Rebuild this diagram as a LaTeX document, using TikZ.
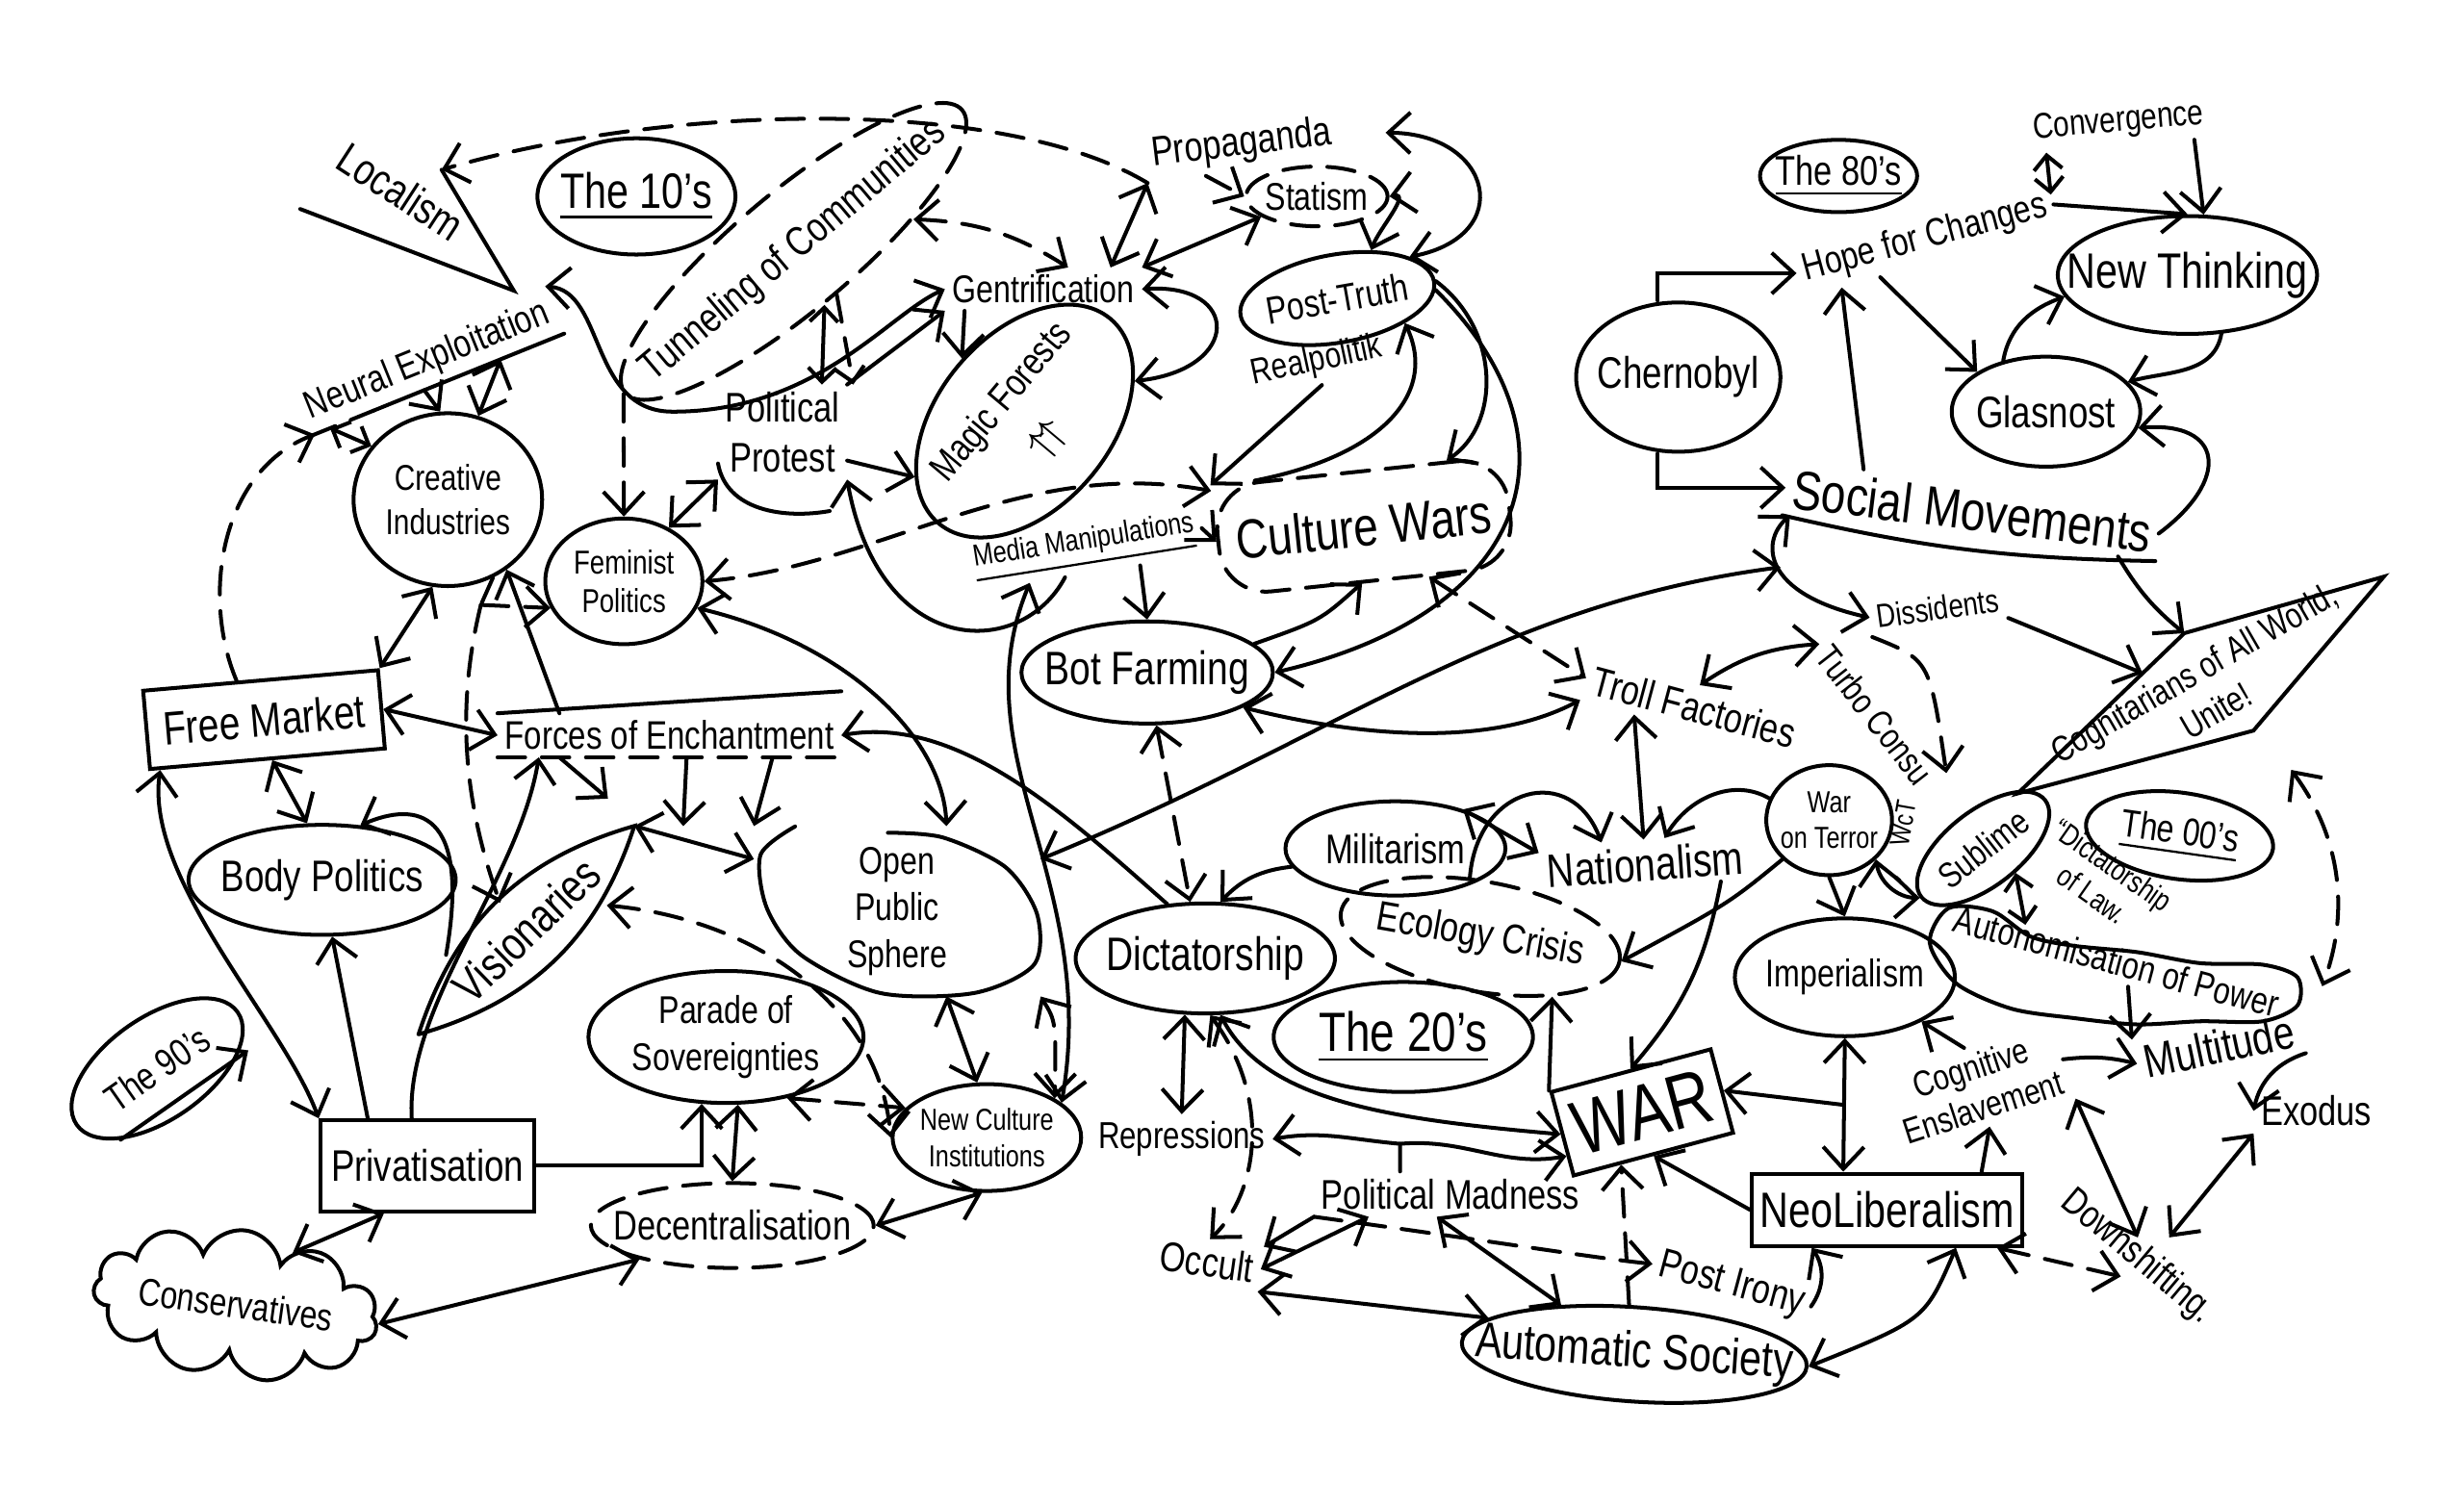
\documentclass[tikz,border=0pt]{standalone}
\usepackage{fontspec}
\setmainfont[FakeStretch=0.8]{Liberation Sans}
\usetikzlibrary{shapes.geometric,shapes.symbols,arrows.meta,calc}
\newcommand\hwfont[2]{\fontsize{#1}{#2}\selectfont}
\tikzset{
  oval/.style={draw,ellipse,inner xsep=-3mm,inner ysep=-1mm},
  dashoval/.style={oval,dashed},
  box/.style={draw,rectangle,inner sep=1.5pt},
  txt/.style={inner sep=1pt},
  cloudy/.style={draw,cloud,cloud puffs=11,aspect=3,inner sep=0pt},
  dashed/.style={dash pattern=on 5pt off 3pt},
  smalltip/.style={>={Straight Barb[length=0.9mm,width=1.8mm]}}
}
\begin{document}
\begin{tikzpicture}[x=0.1mm,y=-0.1mm,line width=0.7pt,line cap=round,>={Straight Barb[length=1.4mm,width=2.6mm]},every node/.style={align=center}]
\useasboundingbox (0,0) rectangle (1568,959);

% nodes
\node[txt,rotate=-33,font=\hwfont{8}{9}] (loc) at (255,122) {Localism};
\coordinate (locA) at (191,133);
\coordinate (locB) at (327,185);
\coordinate (loctip) at (281,108);
\draw (locA) -- (locB) -- (loctip);
\node[oval,minimum width=12.6mm,minimum height=7.4mm,font=\hwfont{9}{10}] (t10) at (405,125) {\underline{The 10's}};
\node[dashoval,rotate=40,minimum width=28mm,minimum height=7.5mm,font=\hwfont{7.5}{8.5}] (tun) at (505,160) {Tunneling of Communities};
\node[txt,rotate=7,font=\hwfont{7.5}{8.5}] (prop) at (790,92) {Propaganda};
\node[dashoval,minimum width=9mm,minimum height=3.8mm,font=\hwfont{7}{8}] (stat) at (838,125) {Statism};
\node[txt,font=\hwfont{7}{8}] (gent) at (664,184) {Gentrification};
\node[oval,rotate=10,minimum width=12.5mm,minimum height=5.6mm,font=\hwfont{7}{8}] (ptruth) at (851,190) {Post-Truth};
\node[txt,rotate=12,font=\hwfont{6.5}{7.5}] (real) at (838,230) {Realpolitik};
\node[txt,rotate=22,font=\hwfont{7}{8}] (neural) at (272,230) {Neural Exploitation};
\draw[dashed] (neural.south west) -- ($(neural.south west)!0.25!(neural.south east)$);
\draw ($(neural.south west)!0.25!(neural.south east)$) -- (neural.south east);
\node[oval,minimum width=12mm,minimum height=11mm,font=\hwfont{6.5}{8}] (crea) at (285,318) {Creative\\Industries};
\node[txt,font=\hwfont{7.5}{9}] (pprot) at (498,275) {Political\\Protest};
\draw ([yshift=-2mm]pprot.west) to[out=-80,in=190] ([xshift=3mm,yshift=-2mm]pprot.south);
\node[oval,rotate=50,minimum width=17mm,minimum height=11mm,font=\hwfont{7}{10.5}] (magic) at (652,268) {Magic Forests\\$\uparrow\!\uparrow$};
\node[oval,minimum width=10mm,minimum height=8mm,font=\hwfont{6}{7}] (fem) at (397,370) {Feminist\\Politics};
\node[txt,rotate=9,font=\hwfont{5.5}{6.5}] (media) at (690,348) {\underline{Media Manipulations}};
\node[draw,dashed,rounded corners=3mm,rotate=6,minimum width=18mm,minimum height=7mm,font=\hwfont{10}{11}] (cult) at (868,335) {Culture Wars};
\node[oval,minimum width=16mm,minimum height=6.5mm,font=\hwfont{8.5}{9.5}] (bot) at (730,428) {Bot Farming};
\node[box,rotate=5,minimum width=15mm,minimum height=5mm,font=\hwfont{8.5}{9.5}] (fm) at (168,458) {Free Market};
\node[txt,font=\hwfont{7.2}{8}] (forces) at (426,468) {Forces of Enchantment};
\draw (forces.north west) -- ([yshift=1.4mm]forces.north east);
\draw[dashed] (forces.south west) -- (forces.south east);
\node[oval,minimum width=17mm,minimum height=7mm,font=\hwfont{8}{9}] (body) at (205,560) {Body Politics};
\node[txt,rotate=44,inner xsep=3.6mm,inner ysep=1.2mm,font=\hwfont{8.5}{9.5}] (vis) at (335,592) {Visionaries};
\draw (vis.west) to[bend left=28] (vis.east) to[bend left=28] (vis.west);
\node[txt,minimum width=18mm,minimum height=10.6mm,font=\hwfont{7}{8.5}] (ops) at (571,580) {Open\\Public\\Sphere};
\draw plot[smooth] coordinates {(506,526) (484,544) (488,578) (510,608) (560,632) (620,632) (658,614) (660,582) (640,552) (600,533) (565,530)};
\node[oval,minimum width=17.5mm,minimum height=8.4mm,font=\hwfont{7}{8.5}] (parade) at (462,660) {Parade of\\Sovereignties};
\node[oval,minimum width=16.5mm,minimum height=7mm,font=\hwfont{8.5}{9.5}] (dict) at (767,610) {Dictatorship};
\node[oval,minimum width=12mm,minimum height=6.8mm,font=\hwfont{5.5}{6.5}] (nci) at (628,724) {New Culture\\Institutions};
\node[dashoval,minimum width=18mm,minimum height=5.4mm,font=\hwfont{7.5}{8.5}] (decent) at (466,780) {Decentralisation};
\node[box,minimum width=13.6mm,minimum height=5.8mm,font=\hwfont{8}{9}] (priv) at (272,742) {Privatisation};
\node[oval,rotate=35,minimum width=12.5mm,minimum height=6.5mm,font=\hwfont{7}{8}] (n90) at (100,680) {The 90's};
\draw[->] (n90.south west) -- ($(n90.south west)!1.1!(n90.south east)$);
\node[cloudy,rotate=-8,minimum width=17.5mm,minimum height=7mm,font=\hwfont{7}{8}] (cons) at (150,830) {Conservatives};
\node[txt,font=\hwfont{6.8}{7.8}] (repr) at (752,725) {Repressions};
\node[txt,rotate=-8,font=\hwfont{7.5}{8.5}] (occ) at (768,803) {Occult};
\node[txt,font=\hwfont{7.5}{8.5}] (pmad) at (923,760) {Political Madness};
\node[oval,rotate=-4,minimum width=22mm,minimum height=6mm,font=\hwfont{9}{10}] (auto) at (1040,862) {Automatic Society};
\node[txt,rotate=-15,font=\hwfont{7.5}{8.5}] (pirony) at (1102,818) {Post Irony};
\node[box,rotate=15,minimum width=10.5mm,minimum height=5.5mm,font=\hwfont{14}{15}] (war) at (1045,708) {WAR};
\node[box,minimum width=16.2mm,minimum height=4.6mm,font=\hwfont{9}{10}] (neo) at (1201,770) {NeoLiberalism};
\node[txt,rotate=18,font=\hwfont{6.5}{7.5}] (cogn) at (1258,692) {Cognitive\\Enslavement};
\node[txt,rotate=12,font=\hwfont{8.5}{9.5}] (mult) at (1412,666) {Multitude};
\node[txt,font=\hwfont{7.5}{8.5}] (exo) at (1474,707) {Exodus};
\node[txt,rotate=-40,font=\hwfont{7}{8}] (down) at (1360,800) {Downshifting.};
\node[oval,minimum width=14mm,minimum height=7.5mm,font=\hwfont{7}{8}] (imp) at (1174,622) {Imperialism};
\node[txt,rotate=-15,font=\hwfont{6.8}{7.8}] (auton) at (1347,612) {Autonomisation of Power};
\draw plot[smooth cycle] coordinates {(1240,578) (1228,600) (1245,626) (1280,642) (1320,648) (1360,652) (1400,650) (1440,650) (1462,640) (1462,622) (1440,614) (1400,613) (1360,606) (1320,602) (1292,596) (1268,580)};
\node[txt,rotate=-35,font=\hwfont{5.5}{6.5}] (dlaw) at (1338,560) {\textquotedblleft Dictatorship\\of Law.};
\node[oval,rotate=38,minimum width=10mm,minimum height=4.8mm,font=\hwfont{6.5}{7.5}] (subl) at (1262,540) {Sublime};
\node[oval,rotate=-8,minimum width=12mm,minimum height=5.5mm,font=\hwfont{7}{8}] (n00) at (1387,532) {\underline{The 00's}};
\node[txt,rotate=30,font=\hwfont{6.5}{8}] (cogt) at (1403,440) {Cognitarians of All World,\\Unite!};
\coordinate (cgA) at (1284,505);
\coordinate (cgB) at (1390,403);
\coordinate (cgC) at (1517,367);
\coordinate (cgD) at (1434,465);
\coordinate (cgE) at (1458,490);
\draw (cgA) -- (cgB) -- (cgC) -- (cgD) -- cycle;
\node[oval,minimum width=8mm,minimum height=7mm,font=\hwfont{5.5}{6.5}] (wot) at (1164,522) {War\\on Terror};
\node[txt,rotate=-52,font=\hwfont{6.5}{7.5}] (turbo) at (1193,455) {Turbo Consu};
\node[txt,rotate=80,font=\hwfont{5}{6}] (wct) at (1211,524) {WcT};
\node[txt,rotate=8,font=\hwfont{6}{7}] (diss) at (1233,387) {Dissidents};
\node[txt,rotate=-7,font=\hwfont{10}{11}] (socm) at (1255,325) {Social Movements};
\draw (socm.south west) to[bend right=6] (socm.south east);
\node[oval,minimum width=13mm,minimum height=9.5mm,font=\hwfont{8}{9}] (cher) at (1068,240) {Chernobyl};
\node[txt,rotate=15,font=\hwfont{7}{8}] (hope) at (1225,152) {Hope for Changes};
\node[oval,minimum width=10mm,minimum height=4.6mm,font=\hwfont{7.5}{8.5}] (n80) at (1170,112) {\underline{The 80's}};
\node[txt,rotate=5,font=\hwfont{6.5}{7.5}] (conv) at (1348,78) {Convergence};
\node[oval,minimum width=16.5mm,minimum height=7.5mm,font=\hwfont{9}{10}] (newt) at (1392,175) {New Thinking};
\node[oval,minimum width=12mm,minimum height=7mm,font=\hwfont{8}{9}] (glas) at (1302,262) {Glasnost};
\node[txt,rotate=-15,font=\hwfont{7.5}{8.5}] (troll) at (1078,450) {Troll Factories};
\node[oval,minimum width=14mm,minimum height=6mm,font=\hwfont{7.5}{8.5}] (milit) at (888,540) {Militarism};
\node[txt,rotate=4,font=\hwfont{8.5}{9.5}] (nat) at (1047,550) {Nationalism};
\node[dashoval,rotate=-10,minimum width=18mm,minimum height=7mm,font=\hwfont{7.5}{8.5}] (eco) at (942,596) {Ecology Crisis};
\node[oval,minimum width=16.5mm,minimum height=7mm,font=\hwfont{10}{11}] (n20) at (893,660) {\underline{The 20's}};

% connectors, top left
\draw[->,dashed] (prop.south west) .. controls (640,62) and (430,65) .. (loctip);
\coordinate (dip) at (428,262);
\draw[<->] (neural.north east) .. controls (385,185) and (375,262) .. (dip) .. controls (520,262) and (565,200) .. (gent.west);
\draw[<->,smalltip] ($(neural.south west)!0.08!(neural.south east)$) -- (crea.145);
\draw[->] ($(neural.south west)!0.45!(neural.south east)$) -- (crea.95);
\draw[<->] ($(neural.south west)!0.75!(neural.south east)$) -- (crea.70);
\draw[->,dashed] ($(fm.north west)!0.4!(fm.north east)$) .. controls (128,380) and (140,300) .. ($(neural.south west)!0.02!(neural.south east)$);
\coordinate (cfork) at (306,385);
\draw[dashed] (crea.-60) -- (cfork);
\draw[->,dashed] (cfork) -- (fem.200);
\draw[->,dashed] (cfork) .. controls (290,450) and (295,510) .. (vis.north);
\draw[<->] (fm.north east) -- (crea.-100);
\draw[<->] (fm.east) -- (forces.west);
\draw[<->] ($(fm.south west)!0.52!(fm.south east)$) -- (body.105);
\draw[<->] ($(fm.south west)!0.05!(fm.south east)$) .. controls (92,560) and (180,650) .. (priv.north west);
\draw[->] ($(forces.north west)!0.18!(forces.north east)$) -- (crea.-50);
\draw[->] ($(forces.south west)!0.18!(forces.south east)$) -- (vis.north east);
\draw[->] ($(forces.south west)!0.55!(forces.south east)$) -- ([xshift=-4.5mm]ops.north west);
\draw[->] ($(forces.south west)!0.8!(forces.south east)$) -- (ops.north west);
\draw[->] (dict.125) .. controls (680,520) and (610,455) .. (forces.east);
\draw[->] ([xshift=-3.8mm]priv.north) -- (body.-80);
\draw[->] ([xshift=-1mm]priv.north) .. controls (258,640) and (330,560) .. ($(forces.south west)!0.12!(forces.south east)$);
\draw[->] (priv.east) -| (parade.-110);
\draw[<->] ($(priv.south west)!0.3!(priv.south east)$) -- (cons.50);
\draw[<->] (cons.east) -- (decent.200);
\draw[->] ($(vis.north)!0.5!(vis.north west)$) .. controls (300,515) and (265,510) .. (body.55);
\draw[<->] (vis.east) -- (ops.160);
\draw[<->,dashed] ($(vis.south)!0.5!(vis.south east)$) .. controls (480,585) and (560,640) .. (nci.west);

% middle
\draw[->,dashed] (tun.west) -- (fem.north);
\draw[<->] (pprot.south west) -- (fem.50);
\draw[<->,dashed] ($(cult.north west)!0.05!(cult.south west)$) .. controls (650,290) and (560,360) .. (fem.east);
\draw[<->] (fem.-20) .. controls (540,410) and (600,470) .. (ops.60);
\draw[->] ($(pprot.east)!0.6!(pprot.south east)$) -- (magic.157);
\draw[->] (pprot.north east) -- (gent.south west);
\draw[->] ($(gent.south west)!0.1!(gent.south east)$) -- (magic.85);
\draw[<->] (gent.east) .. controls (790,180) and (790,235) .. (magic.-30);
\draw[<->,dashed] (tun.-25) to[bend left=15] ($(gent.north)!0.25!(gent.north east)$);
\draw[<->,smalltip] (tun.-100) -- ([xshift=2.5mm]pprot.north);
\draw[->,dashed,smalltip] (tun.-85) -- ([xshift=4.5mm]pprot.north);
\draw[<->] (ops.-60) -- (nci.100);
\draw[<->,dashed] (ops.south east) .. controls (672,650) .. (nci.30);
\coordinate (cmid) at (1133,361);
\draw[<->] (ops.20) .. controls (850,470) and (950,385) .. (cmid);
\draw[<->,dashed] (parade.-45) -- (nci.160);
\draw[<->] (parade.-80) -- (decent.north);
\draw[<->] (decent.east) -- (nci.-95);
\draw[<->] ($(media.south west)!0.25!(media.south east)$) .. controls (610,480) and (700,560) .. (nci.25);
\draw[->] ($(media.south west)!0.4!(media.south east)$) .. controls (650,420) and (560,420) .. (pprot.south east);
\draw[->] ($(media.south west)!0.72!(media.south east)$) -- (bot.north);
\draw[->,dashed] (media.east) -- (cult.west);
\draw[<->,dashed] ($(cult.south)!0.4!(cult.south east)$) -- (troll.west);
\draw[->] (real.south) -- (cult.north west);
\draw[->] ($(cult.north west)!0.15!(cult.north east)$) .. controls (880,290) and (915,250) .. (ptruth.-30);
\draw[->] (ptruth.east) .. controls (955,210) and (955,270) .. ($(cult.north east)!0.2!(cult.north west)$);
\draw[->] (ptruth.-5) .. controls (1010,280) and (975,390) .. (bot.east);
\draw[->] (bot.15) .. controls (840,395) .. ([xshift=-0.5mm]cult.south);
\draw[<->] ([xshift=3mm]prop.east) .. controls (950,85) and (965,150) .. (ptruth.20);
\draw[<->] (stat.east) to[out=10,in=70] (ptruth.45);
\draw[->,dashed] ($(prop.south west)!0.3!(prop.south east)$) -- (stat.west);
\draw[<->] ([xshift=-2mm]gent.north east) -- (prop.south west);
\draw[<->] (gent.north east) -- (stat.200);
\draw[<->,dashed] (bot.-80) -- (dict.105);
\draw[<->] (bot.-20) .. controls (870,470) and (950,475) .. (troll.south west);

% lower middle
\draw[->] (milit.190) to[bend right=20] (dict.75);
\draw[<->] (war.west) .. controls (880,712) and (805,700) .. (dict.-75);
\draw[<->] (dict.-110) -- (repr.north);
\draw[<->,dashed] (dict.-85) .. controls (810,700) and (800,760) .. (occ.north);
\coordinate (pmj) at (891,728);
\draw ([xshift=-3.2mm]pmad.north) -- (pmj);
\draw[->] (pmj) to[out=175,in=10] (repr.east);
\draw[->] (pmj) to[out=5,in=190] (war.195);
\draw[->] (pmad.south west) -- (occ.north east);
\draw[<->] ($(pmad.south west)!0.2!(pmad.south east)$) -- (occ.east);
\draw[<->] ($(pmad.south west)!0.45!(pmad.south east)$) -- (auto.150);
\draw[<->] (occ.south east) -- (auto.170);
\draw[->,dashed] (pmad.south west) .. controls (950,790) and (1010,800) .. (pirony.west);
\draw[->,dashed] (auto.100) -- ($(war.south west)!0.3!(war.south east)$);
\draw[->] (neo.west) -- (war.south);
\coordinate (ij) at ($(imp.south)!0.5!([xshift=-2.8mm]neo.north)$);
\draw[<->] (imp.south) -- ([xshift=-2.8mm]neo.north);
\draw[->] (ij) -- (war.east);
\draw[->] ([xshift=6mm]neo.north) -- (cogn.south);
\draw[->] (cogn.north) -- (imp.-30);
\draw[->] (cogn.east) to[bend left=10] (mult.west);
\draw[<->] (cogn.south east) .. controls (1330,720) .. ([xshift=-1mm]down.north);
\draw[<->,dashed] ($(neo.south)!0.8!(neo.south east)$) -- (down.south);
\draw[<->] ($(neo.south)!0.5!(neo.south east)$) .. controls (1225,840) .. (auto.east);
\draw[->] (pirony.east) to[bend right=35] ($(neo.south west)!0.45!(neo.south)$);

% right
\draw[->] ($(auton.south)!0.1!(auton.south east)$) -- (mult.north west);
\draw[->] (mult.south east) to[bend right=30] (exo.west);
\draw[<->] (exo.south west) -- ([xshift=1mm]down.north);
\draw[<->,smalltip] (subl.-75) -- ($(auton.north west)!0.22!(auton.south east)$);
\draw[<->] (wot.-40) to[bend right=40] (subl.west);
\draw[->] (wot.south) -- (imp.north);
\draw[->] (wot.160) to[out=150,in=60] ($(nat.north)!0.2!(nat.north east)$);
\draw[->] (wot.-140) .. controls (1100,575) .. (eco.east);
\draw[->] ([xshift=-2mm]nat.south east) to[bend left=15] (war.north);
\draw[->] (war.north west) -- (eco.-30);
\draw[<->] ($(troll.south west)!0.25!(troll.south east)$) -- (nat.north);
\draw[<->] (troll.north) to[bend left=15] (turbo.west);
\draw[<->] (milit.30) -- (nat.170);
\draw[->] (eco.110) .. controls (940,500) and (1000,485) .. ($(nat.north west)!0.3!(nat.north east)$);
\draw[<->] ([xshift=0.5mm]socm.south west) .. controls (1120,345) and (1122,378) .. (diss.west);
\draw[->] (diss.south east) -- ($(cgA)!0.75!(cgB)$);
\draw[->] ($(socm.south east)!0.1!(socm.south west)$) to[bend right=10] (cgB);
\draw[->,dashed] (diss.south west) .. controls (1228,420) .. (turbo.north east);
\draw[<->,dashed] (cgE) .. controls (1495,540) and (1492,590) .. ([xshift=2mm]auton.north east);

% top right
\draw[->] ([xshift=-1.3mm]cher.north) |- (hope.west);
\draw[->] ([xshift=-1.3mm]cher.south) |- (socm.west);
\draw[->] ($(socm.north west)!0.2!(socm.north east)$) -- ($(hope.south west)!0.15!(hope.south east)$);
\draw[->] ($(hope.south west)!0.3!(hope.south east)$) -- (glas.150);
\draw[->] (hope.east) -- (newt.north);
\draw[<->,smalltip] ($(conv.south west)!0.1!(conv.south east)$) -- ($(hope.north east)!0.3!(hope.south east)$);
\draw[->] ($(conv.south east)!0.1!(conv.south west)$) -- (newt.75);
\draw[->] (newt.-60) to[out=-100,in=15] (glas.20);
\draw[->] (glas.130) to[out=80,in=200] (newt.190);
\draw[->] (socm.east) .. controls (1420,305) and (1415,268) .. (glas.-10);
\end{tikzpicture}
\end{document}
